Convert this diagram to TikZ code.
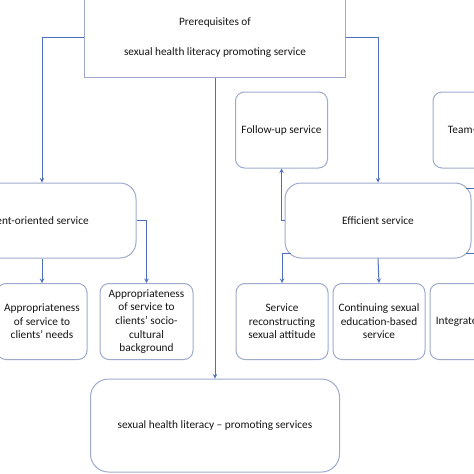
\documentclass[tikz,border=0pt]{standalone}
\usepackage{fontspec}
\setmainfont{Carlito}
\usetikzlibrary{arrows, calc, positioning}

\definecolor{boxline}{RGB}{158,170,204}
\definecolor{linkblue}{RGB}{78,110,190}
\definecolor{ink}{RGB}{20,20,20}

\begin{document}
\begin{tikzpicture}[>=stealth, x=1pt, y=-1pt]
	\tikzstyle{frame} = [draw=boxline, line width=1pt, rectangle, align=center, text=ink, inner sep=0pt, font=\fontsize{11.3}{13.6}\selectfont]
	\tikzstyle{smallbox} = [frame, rounded corners=9pt, minimum width=92pt, minimum height=76pt]
	\tikzstyle{bigbox} = [frame, rounded corners=16pt, minimum height=75pt]
	\tikzstyle{link} = [->, draw=linkblue, line width=1pt]

	\useasboundingbox (0,0) rectangle (474,474);
	\clip (0,0) rectangle (474,474);

	% top level
	\node[frame, minimum width=261pt, minimum height=80pt, font=\fontsize{11.3}{30}\selectfont] (prereq) at (215,37.5)
		{Prerequisites of\\sexual health literacy promoting service};

	% categories
	\node[bigbox, minimum width=198pt] (client) at (37,220.5) {Client-oriented service};
	\node[bigbox, minimum width=186pt] (efficient) at (378,220.5) {Efficient service};
	\node[smallbox] (followup) at (281.5,130) {Follow-up service};
	\node[smallbox, minimum width=120pt] (team) at (493,130) {Team-based service};

	% sub-categories
	\node[smallbox, minimum width=90pt] (needs) at (42,321.5) {Appropriateness\\of service to\\clients' needs};
	\node[smallbox, minimum width=93pt] (socio) at (146.5,321.5) {Appropriateness\\of service to\\clients' socio-\\cultural\\background};
	\node[smallbox] (attitude) at (282,321.5) {Service\\reconstructing\\sexual attitude};
	\node[smallbox] (continuing) at (379,321.5) {Continuing sexual\\education-based\\service};
	\node[smallbox, minimum width=94pt] (integrated) at (477,321.5) {Integrated service};

	% outcome
	\node[frame, rounded corners=18pt, minimum width=249pt, minimum height=93pt] (outcome) at (215,425.5)
		{sexual health literacy -- promoting services};

	% connectors
	\draw[link] (prereq.west) -| (needs.north |- client.north);
	\draw[link] (prereq.east) -| (efficient.north);
	\draw[link] (prereq.south) -- (outcome.north);
	\draw[link] (needs.north |- client.south) -- (needs.north);
	\draw[link] (client.east) -| (socio.north);
	\draw[link] (efficient.west) -| (followup.south);
	\draw[link] ([shift={(6pt,5pt)}]efficient.south west) -| (attitude.north);
	\draw[link] (efficient.south) -- (continuing.north);
	\draw[link] ([shift={(-6pt,-6pt)}]efficient.north east) -| (team.south);
	\draw[link] ([shift={(-6pt,5pt)}]efficient.south east) -| (integrated.north);
\end{tikzpicture}
\end{document}
